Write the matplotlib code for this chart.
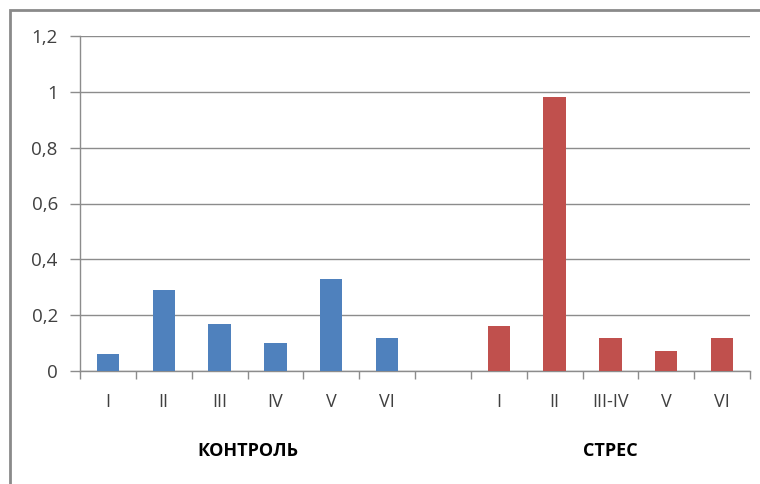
#!/usr/bin/env python3
# Excel-style grouped bar chart: control vs stress
import matplotlib.pyplot as plt
from matplotlib.patches import Rectangle
from matplotlib.ticker import FuncFormatter

control_labels = ['I', 'II', 'III', 'IV', 'V', 'VI']
control_values = [0.06, 0.29, 0.17, 0.10, 0.33, 0.12]
stress_labels = ['I', 'II', 'III-IV', 'V', 'VI']
stress_values = [0.16, 0.98, 0.12, 0.07, 0.12]
group_names = ['КОНТРОЛЬ', 'СТРЕС']
colors = ['#4F81BD', '#C0504D']

plt.rcParams['font.family'] = ['Open Sans', 'DejaVu Sans']

fig = plt.figure(figsize=(7.6, 4.84), dpi=100)
ax = fig.add_axes([80 / 760, 1 - 371 / 484, 670 / 760, 335 / 484])

n_ctrl = len(control_values)
ctrl_x = [i + 0.5 for i in range(n_ctrl)]
stress_x = [n_ctrl + 1 + i + 0.5 for i in range(len(stress_values))]
n_slots = n_ctrl + 1 + len(stress_values)

ax.bar(ctrl_x, control_values, width=0.4, color=colors[0], zorder=3)
ax.bar(stress_x, stress_values, width=0.4, color=colors[1], zorder=3)

ax.set_xlim(0, n_slots)
ax.set_ylim(0, 1.2)
ax.set_yticks([0, 0.2, 0.4, 0.6, 0.8, 1.0, 1.2])
ax.yaxis.set_major_formatter(FuncFormatter(
    lambda v, p: '{:g}'.format(round(v, 1)).replace('.', ',')))
ax.grid(axis='y', color='#8c8c8c', linewidth=1, zorder=0)

ax.set_xticks(ctrl_x + stress_x)
ax.set_xticklabels(control_labels + stress_labels)
ax.set_xticks(range(n_slots + 1), minor=True)
ax.tick_params(axis='x', which='major', length=0, pad=16,
               labelsize=13, labelcolor='#404040')
ax.tick_params(axis='x', which='minor', length=6, width=1,
               color='#8c8c8c', direction='out')
ax.tick_params(axis='y', length=7, width=1, color='#8c8c8c',
               pad=9, labelsize=13.5, labelcolor='#404040')

for side in ['top', 'right']:
    ax.spines[side].set_visible(False)
for side in ['left', 'bottom']:
    ax.spines[side].set_color('#8c8c8c')
    ax.spines[side].set_linewidth(1)

# group labels
ax.text(n_ctrl / 2, -0.285, group_names[0], ha='center', va='center',
        fontsize=13, fontweight='bold', clip_on=False)
ax.text((n_ctrl + 1 + n_slots) / 2, -0.285, group_names[1], ha='center',
        va='center', fontsize=13, fontweight='bold', clip_on=False)

# chart area border (cropped at right and bottom)
fig.patches.append(Rectangle((10 / 760, -0.05), 1.1, 1 - 10 / 484 + 0.05,
                             transform=fig.transFigure, fill=False,
                             edgecolor='#8a8a8a', linewidth=2))

fig.savefig('out.png', dpi=100)
